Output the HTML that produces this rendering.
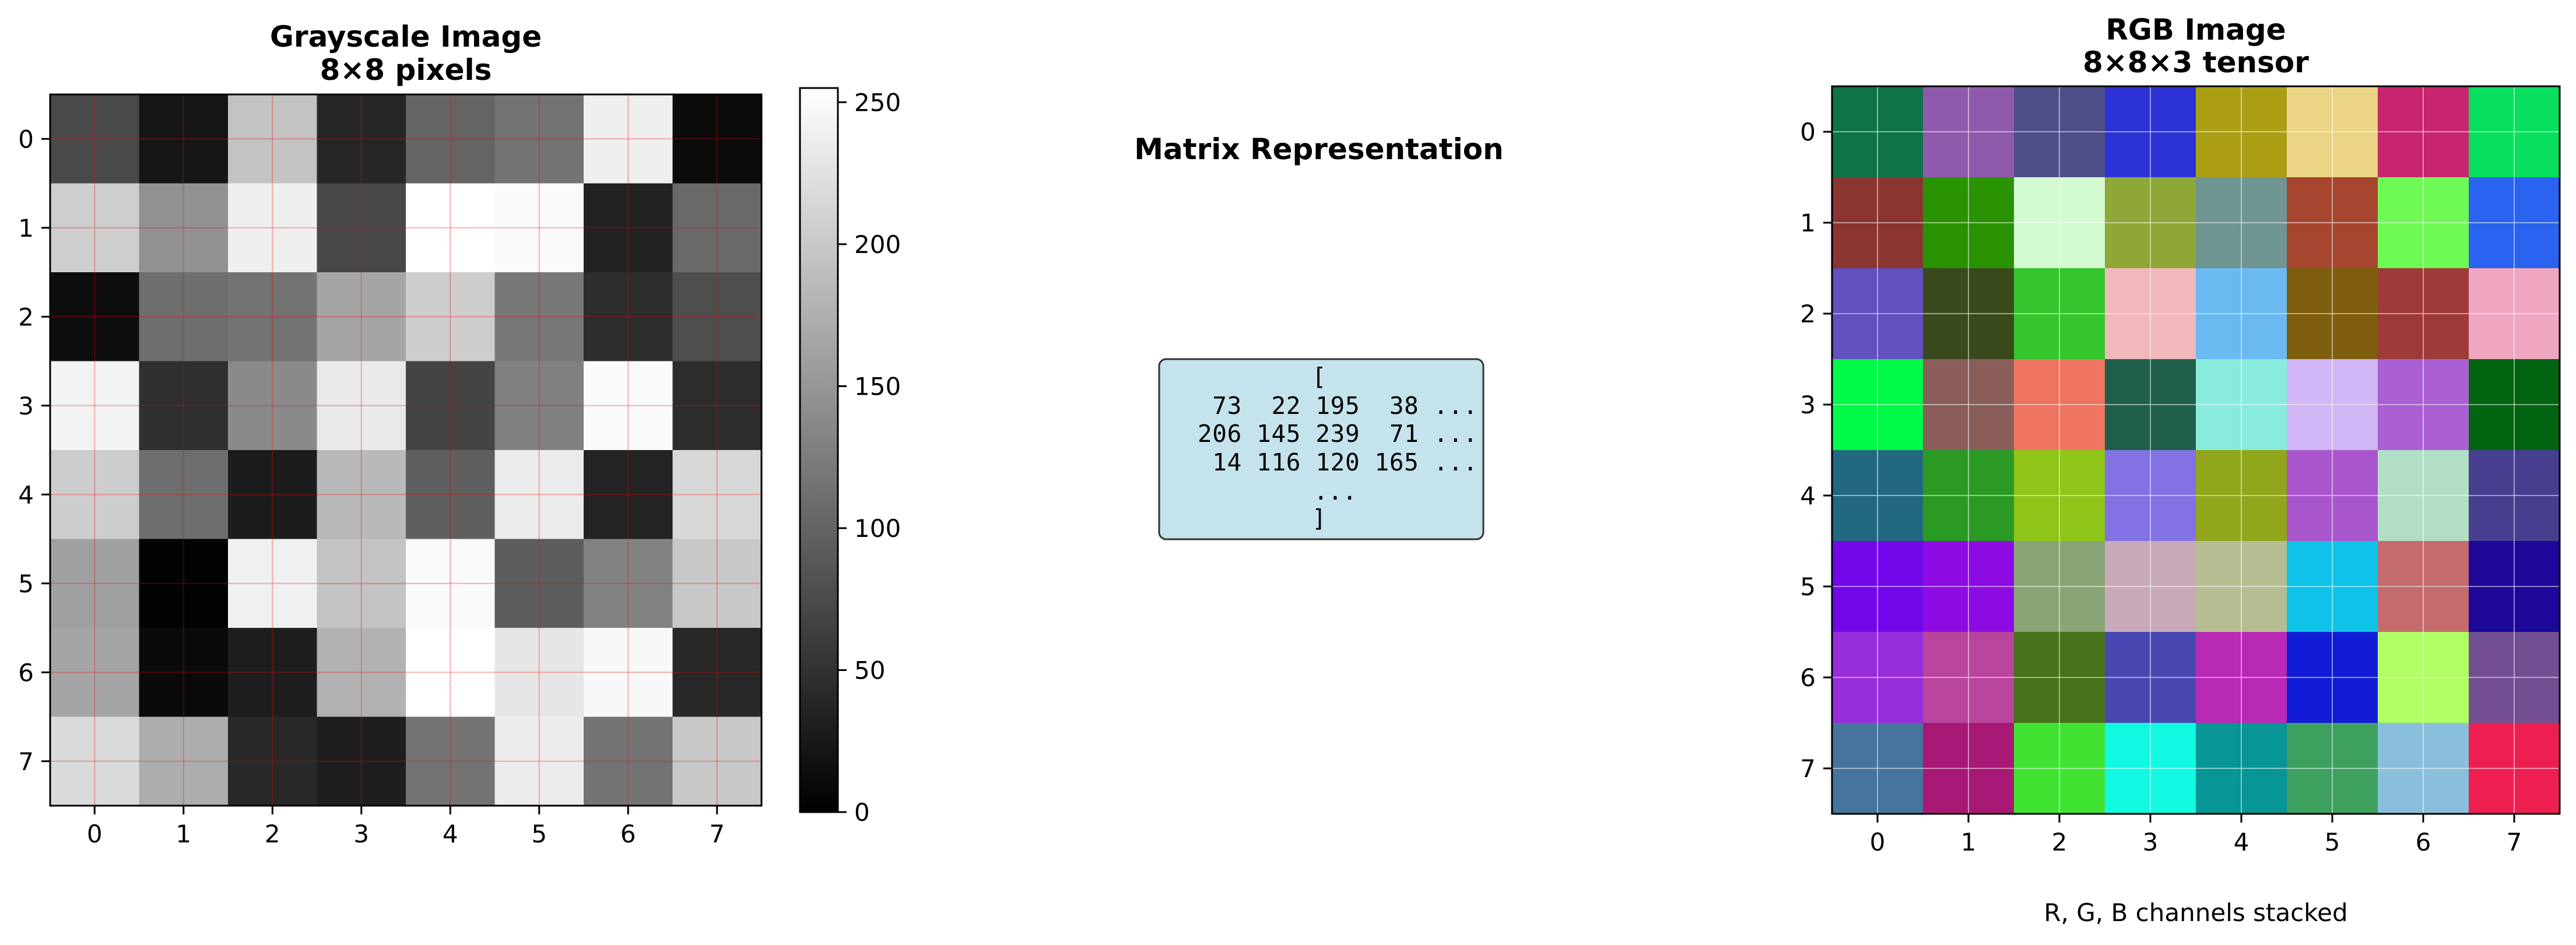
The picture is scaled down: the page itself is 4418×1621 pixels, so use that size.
<!DOCTYPE html>
<html><head><meta charset="utf-8"><style>
html,body{margin:0;padding:0;background:#fff;}
svg{display:block;}
text{font-family:"DejaVu Sans","Liberation Sans",sans-serif;}
.t{font-size:42px;fill:#000;}
.h{font-size:50px;font-weight:bold;fill:#000;}
.m{font-family:"DejaVu Sans Mono","Liberation Mono",monospace;font-size:41px;white-space:pre;}
</style></head><body>
<svg id="s" width="4418" height="1621" viewBox="0 0 4418 1621" xmlns="http://www.w3.org/2000/svg">
<defs><linearGradient id="cb" x1="0" y1="1" x2="0" y2="0"><stop offset="0" stop-color="#000"/><stop offset="1" stop-color="#fff"/></linearGradient></defs>
<g id="gray"></g>
<g id="rgb"></g>
<text class="h" x="696" y="80" text-anchor="middle">Grayscale Image</text>
<text class="h" x="696" y="137" text-anchor="middle">8×8 pixels</text>
<text class="h" x="3766" y="68" text-anchor="middle">RGB Image</text>
<text class="h" x="3766" y="124" text-anchor="middle">8×8×3 tensor</text>
<text class="h" x="2262" y="273" text-anchor="middle">Matrix Representation</text>
<text class="t" x="3766" y="1580" text-anchor="middle">R, G, B channels stacked</text>
<rect x="1372" y="151" width="65" height="1242" fill="url(#cb)" stroke="#000" stroke-width="3"/>
<g id="cbt"></g>
<rect x="1988" y="616" width="556" height="309" rx="12" fill="#c5e3ec" stroke="#333" stroke-width="3"/>
<text class="m" x="2250" y="660">[</text>
<text class="m" x="2054" y="710" textLength="480" lengthAdjust="spacing"> 73  22 195  38 ...</text>
<text class="m" x="2054" y="758" textLength="480" lengthAdjust="spacing">206 145 239  71 ...</text>
<text class="m" x="2054" y="807" textLength="480" lengthAdjust="spacing"> 14 116 120 165 ...</text>
<text class="m" x="2253" y="857">...</text>
<text class="m" x="2250" y="903">]</text>
</svg>
<script>
var NS="http://www.w3.org/2000/svg";
function el(p,t,a,txt){var e=document.createElementNS(NS,t);for(var k in a)e.setAttribute(k,a[k]);if(txt!==undefined)e.textContent=txt;p.appendChild(e);return e;}
var G=[[73,22,195,38,100,115,239,11],[206,145,239,71,255,250,34,105],[14,110,115,165,205,120,45,78],[243,47,138,233,68,128,250,45],[205,110,28,185,95,235,35,215],[160,3,240,195,250,93,130,200],[165,10,30,178,255,230,248,40],[218,173,40,30,115,236,115,200]];
var g=document.getElementById("gray");
var x0=86,y0=162,c=152.5;
for(var r=0;r<8;r++)for(var k=0;k<8;k++){var v=G[r][k];el(g,"rect",{x:x0+k*c,y:y0+r*c,width:c+0.5,height:c+0.5,fill:"rgb("+v+","+v+","+v+")"});}
for(var i=0;i<8;i++){var p=x0+c/2+i*c;el(g,"line",{x1:p,y1:y0,x2:p,y2:y0+8*c,stroke:"rgba(255,0,0,0.3)","stroke-width":2});
var q=y0+c/2+i*c;el(g,"line",{x1:x0,y1:q,x2:x0+8*c,y2:q,stroke:"rgba(255,0,0,0.3)","stroke-width":2});
el(g,"line",{x1:p,y1:y0+8*c,x2:p,y2:y0+8*c+15,stroke:"#000","stroke-width":3});
el(g,"text",{x:p,y:y0+8*c+63,"class":"t","text-anchor":"middle"},i);
el(g,"line",{x1:x0-15,y1:q,x2:x0,y2:q,stroke:"#000","stroke-width":3});
el(g,"text",{x:x0-28,y:q+15,"class":"t","text-anchor":"end"},i);}
el(g,"rect",{x:x0,y:y0,width:8*c,height:8*c,fill:"none",stroke:"#000","stroke-width":3});
var C=[["#0e7447","#8f5aab","#4e4f88","#2c32d3","#a99e14","#e9d585","#c7256e","#07df5d"],
["#8b3531","#299303","#d4fad2","#8fa736","#6e9592","#a7462f","#6ef955","#2963f0"],
["#6150bd","#394b1c","#34c62c","#f1b8bb","#6bb9f1","#7f5e0e","#9e3a38","#f0a6c0"],
["#00fa48","#895e58","#ee7561","#20604a","#89ebdb","#d0b6f5","#aa60d3","#006411"],
["#226880","#2a9a24","#8fc418","#8272e4","#92a61b","#a955cb","#b2dec5","#463f90"],
["#7208ea","#8e0ce4","#89a575","#c8a9b9","#b6bd92","#10c3e9","#c46b6e","#1e089a"],
["#972ddb","#b9459d","#47731c","#4848b0","#b829b6","#111bd6","#b0ff64","#724f93"],
["#45759c","#a81975","#41e333","#12f9e2","#089595","#3da05e","#8abfdb","#ed1f51"]];
var h=document.getElementById("rgb");
var X0=3142,Y0=148,d=156;
for(var r=0;r<8;r++)for(var k=0;k<8;k++)el(h,"rect",{x:X0+k*d,y:Y0+r*d,width:d+0.5,height:d+0.5,fill:C[r][k]});
for(var i=0;i<8;i++){var p=X0+d/2+i*d;el(h,"line",{x1:p,y1:Y0,x2:p,y2:Y0+8*d,stroke:"rgba(255,255,255,0.5)","stroke-width":2});
var q=Y0+d/2+i*d;el(h,"line",{x1:X0,y1:q,x2:X0+8*d,y2:q,stroke:"rgba(255,255,255,0.5)","stroke-width":2});
el(h,"line",{x1:p,y1:Y0+8*d,x2:p,y2:Y0+8*d+15,stroke:"#000","stroke-width":3});
el(h,"text",{x:p,y:Y0+8*d+63,"class":"t","text-anchor":"middle"},i);
el(h,"line",{x1:X0-15,y1:q,x2:X0,y2:q,stroke:"#000","stroke-width":3});
el(h,"text",{x:X0-28,y:q+15,"class":"t","text-anchor":"end"},i);}
el(h,"rect",{x:X0,y:Y0,width:8*d,height:8*d,fill:"none",stroke:"#000","stroke-width":3});
var cb=document.getElementById("cbt");
for(var v=0;v<=250;v+=50){var y=1393-v/255*1242;el(cb,"line",{x1:1437,y1:y,x2:1452,y2:y,stroke:"#000","stroke-width":3});el(cb,"text",{x:1465,y:y+15,"class":"t"},v);}
</script>
</body></html>
